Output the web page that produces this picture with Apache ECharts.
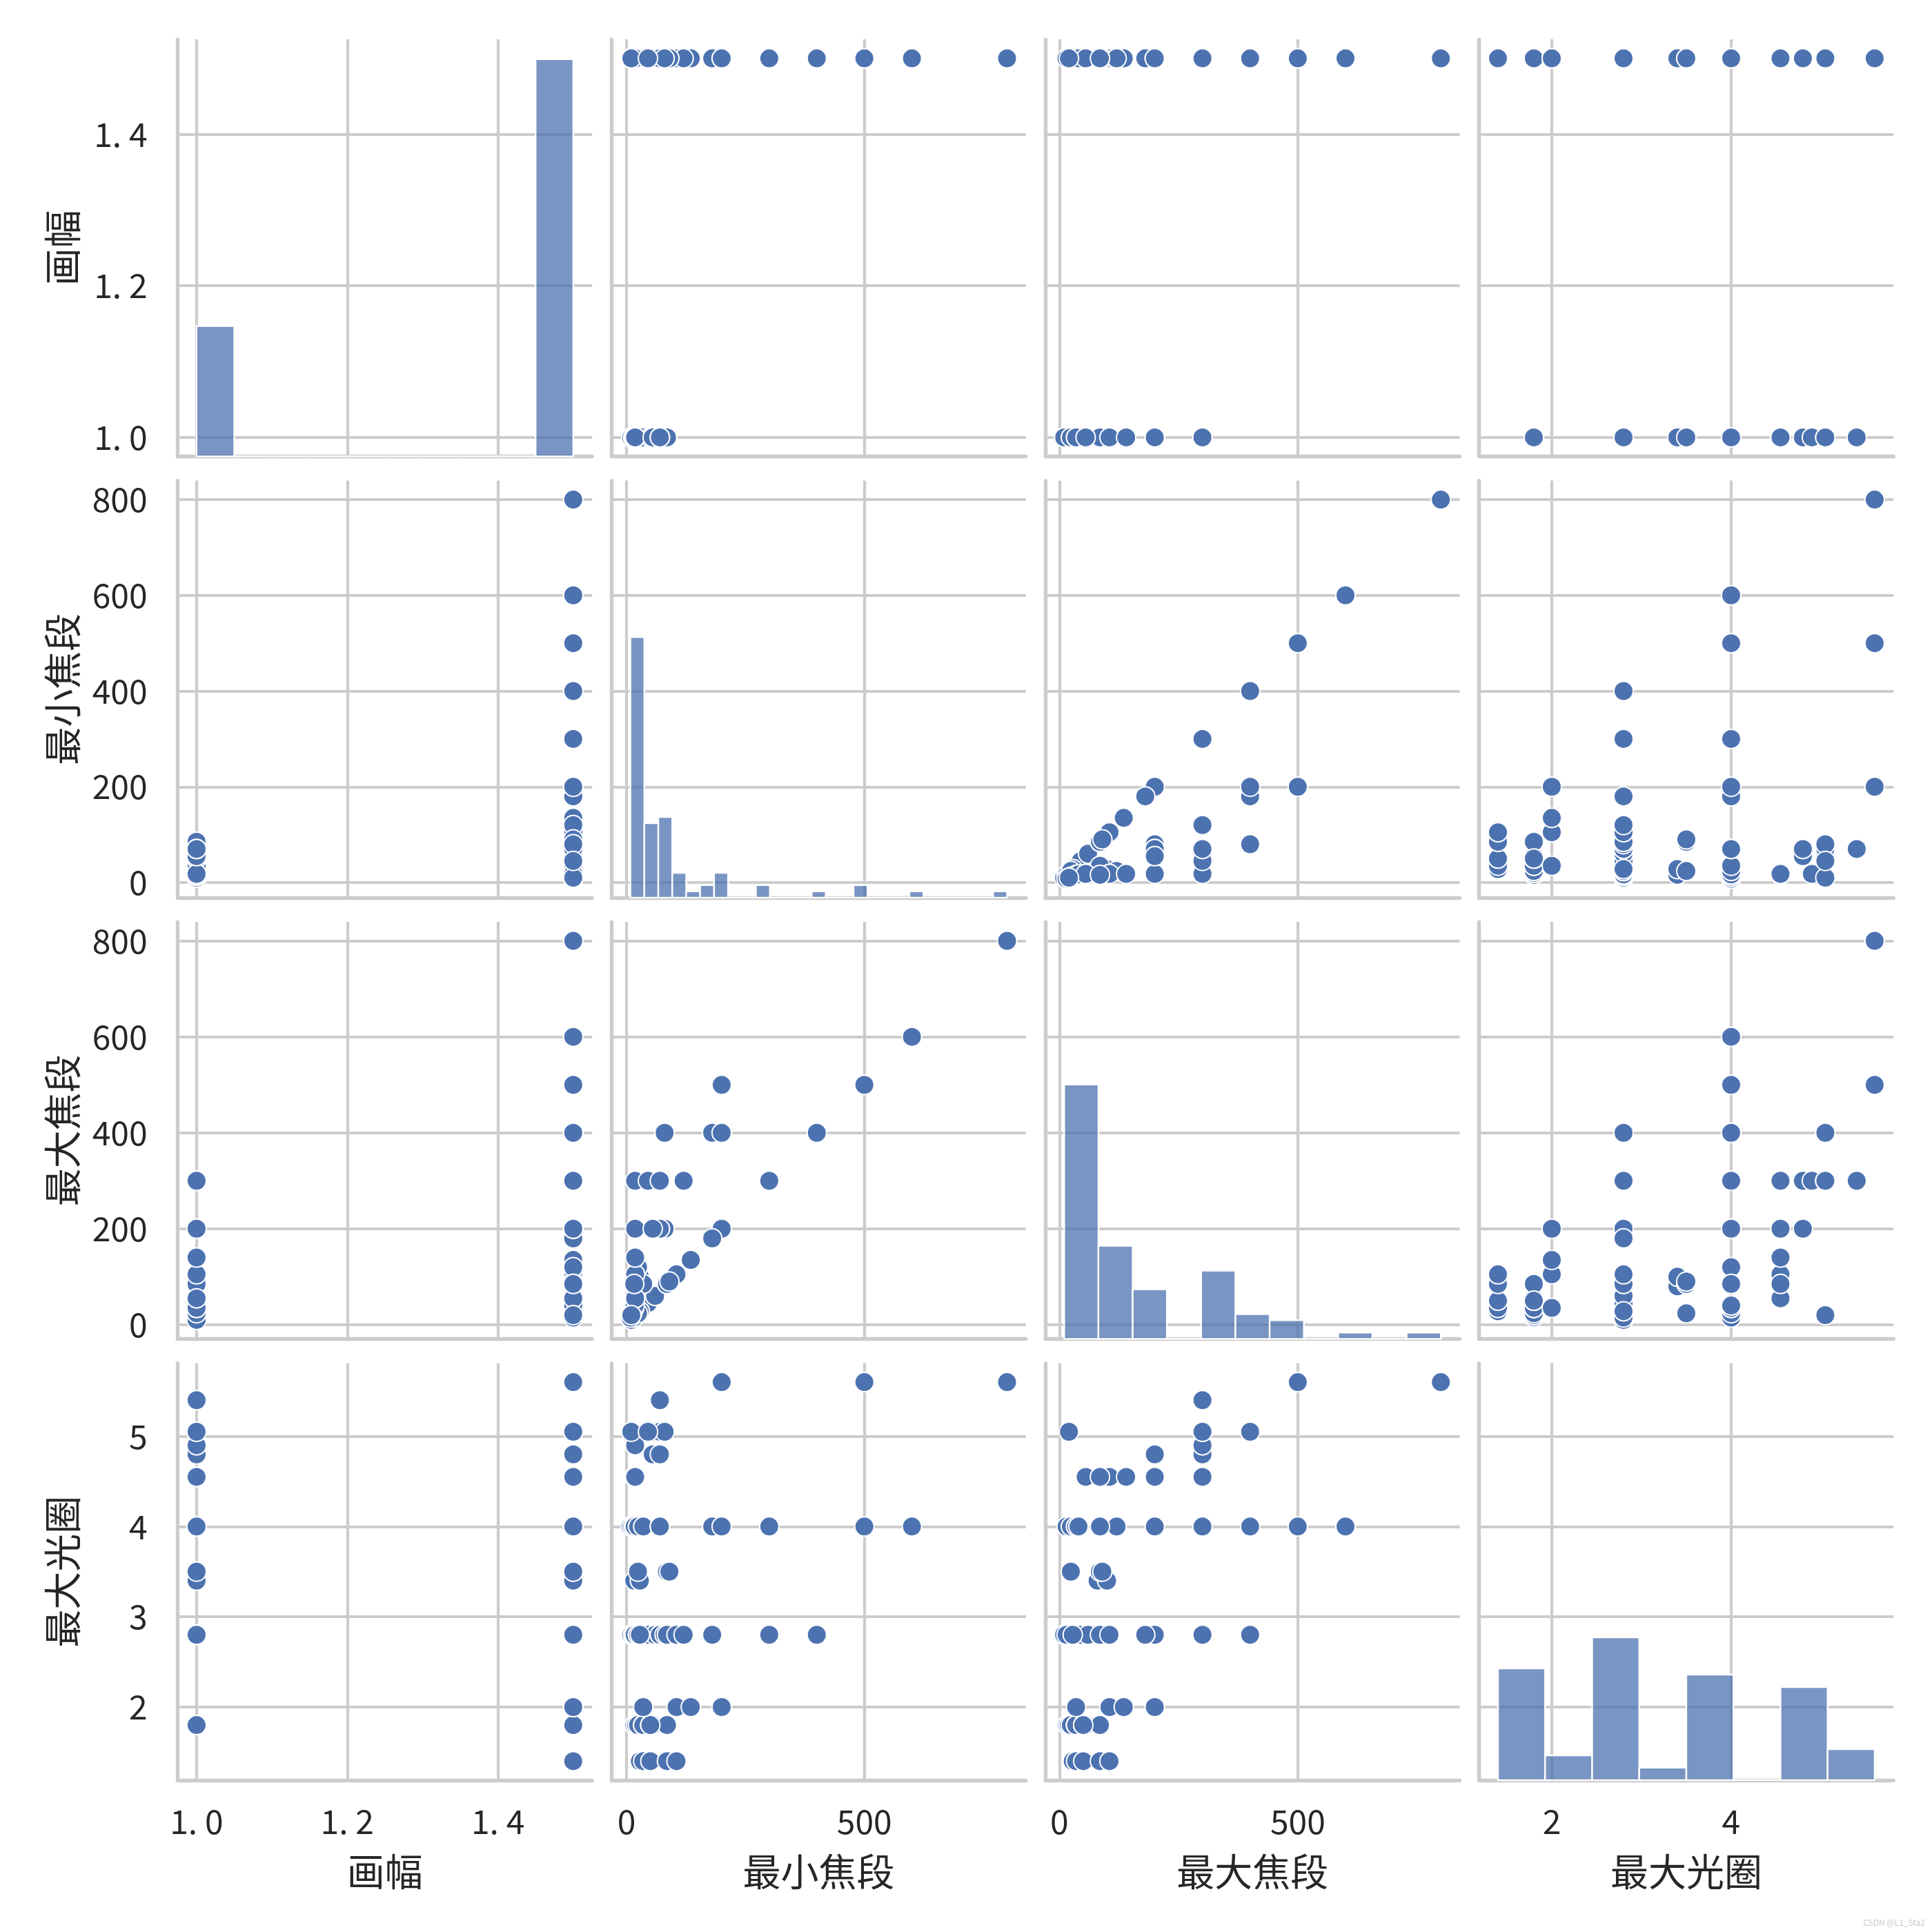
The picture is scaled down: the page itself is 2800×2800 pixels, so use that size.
<!DOCTYPE html>
<html><head><meta charset="utf-8">
<script src="https://cdn.jsdelivr.net/npm/echarts@6/dist/echarts.min.js"></script>
<style>html,body{margin:0;padding:0;background:#fff}#c{width:2800px;height:2800px}</style>
</head><body><div id="c"></div>
<script>
// ---------------- data ----------------
const varNames = ['画幅', '最小焦段', '最大焦段', '最大光圈'];

const format = [1.5,1.5,1.5,1.5,1.5, 1.5,1.0,1.5,1.5,1.5,1.0,1.5,1.5,1.0,1.5,1.5,1.0,1.5, 1.5,1.5,1.5,1.5,
  1.0,1.5,1.0,1.5,1.5,1.0,1.5,1.0,1.5,1.5,1.5,1.5,1.5,1.5,1.5,1.0,1.5,1.5,1.5,1.5,1.5,1.5,1.5,
  1.0,1.5, 1.5,1.0,1.5, 1.5,1.5,1.0,1.5,1.5,1.5,1.5,1.5,1.5,1.5,1.5,1.5,1.5,1.0,
  1.0,1.5,1.0,1.5,1.0,1.5,1.5, 1.0,1.5, 1.0, 1.5,1.0,1.5,1.0,1.5,1.5, 1.0,1.5,1.5,1.5];
const minFocal = [28,35,50,85,105, 16,20,20,24,35,35,35,50,50,55,85,85,50, 35,105,135,200,
  10,14,14,15,16,16,17,17,24,24,24,45,60,70,70,80,85,105,120,180,300,400,28,
  16,28, 24,85,90, 8,12,16,16,17,24,35,70,180,200,300,500,600,70,
  18,18,18,16,18,18,18, 55,70, 18, 10,55,70,70,80,45, 70,200,500,800];
const maxFocal = [28,35,50,85,105, 16,20,20,24,35,35,35,50,50,55,85,85,50, 35,105,135,200,
  10,24,24,15,35,35,50,50,70,70,70,45,60,200,200,200,85,105,300,180,300,400,28,
  80,100, 24,85,90, 15,24,35,35,40,120,85,200,400,400,300,500,600,200,
  55,55,105,85,140,200,300, 200,300, 300, 20,300,300,300,400,300, 300,500,500,800];
const aperture = [1.4,1.4,1.4,1.4,1.4, 1.8,1.8,1.8,1.8,1.8,1.8,1.8,1.8,1.8,1.8,1.8,1.8,1.8, 2,2,2,2,
  2.8,2.8,2.8,2.8,2.8,2.8,2.8,2.8,2.8,2.8,2.8,2.8,2.8,2.8,2.8,2.8,2.8,2.8,2.8,2.8,2.8,2.8,2.8,
  3.4,3.4, 3.5,3.5,3.5, 4,4,4,4,4,4,4,4,4,4,4,4,4,4,
  4.55,4.55,4.55,4.55,4.55,4.55,4.55, 4.8,4.8, 4.9, 5.05,5.05,5.05,5.05,5.05,5.05, 5.4,5.6,5.6,5.6];

// tick values
const formatTicks = [1.0, 1.2, 1.4];
const focalTicksX = [0, 500];
const focalTicksY = [0, 200, 400, 600, 800];
const apertureTicksX = [2, 4];
const apertureTicksY = [2, 3, 4, 5];

// histogram counts (diagonal), with bin ranges
const formatHistCounts = [21,0,0,0,0,0,0,0,0,64];
const formatHistRange = [1.0, 1.5];
const minHistCounts = [42,12,13,4,1,2,4,0,0,2,0,0,0,1,0,0,2,0,0,0,1,0,0,0,0,0,1];
const minHistRange = [8, 800];
const maxHistCounts = [41,15,8,0,11,4,3,0,1,0,1];
const maxHistRange = [10, 800];
const apHistCounts = [18,4,23,2,17,0,15,5];
const apHistRange = [1.4, 5.6];

// ---------------- chart ----------------
const chart = echarts.init(document.getElementById('c'), null, {renderer: 'canvas', width: 2800, height: 2800});
const cols = [format, minFocal, maxFocal, aperture];
const hists = [[formatHistCounts, formatHistRange], [minHistCounts, minHistRange], [maxHistCounts, maxHistRange], [apHistCounts, apHistRange]];
function lim(a) { const lo = Math.min(...a), hi = Math.max(...a), p = (hi - lo) * 0.05; return [lo - p, hi + p]; }
const lims = cols.map(lim);
const xTicks = [formatTicks, focalTicksX, focalTicksX, apertureTicksX];
const yTicks = [formatTicks, focalTicksY, focalTicksY, apertureTicksY];
const fmtFormat = v => v.toFixed(1).replace('.', '. ');
const labelFmt = [fmtFormat, v => String(v), v => String(v), v => String(v)];

const GRIDC = '#cccccc', TXT = '#262626', BLUE = '#4C72B0';
const FONT = '"Noto Sans CJK SC", "Noto Sans", sans-serif';
const L0 = 257.6, CS = 628.7, W = 600.5, T0 = 57.1, RS = 639.5, H = 604.3;
const countMax = Math.max(...hists.map(h => Math.max(...h[0]))) * 1.05;

const grids = [], xAxes = [], yAxes = [], series = [];
for (let r = 0; r < 4; r++) {
  for (let c = 0; c < 4; c++) {
    const gi = r * 4 + c;
    grids.push({left: L0 + c * CS, top: T0 + r * RS, width: W, height: H});
    xAxes.push({
      type: 'value', gridIndex: gi, min: lims[c][0], max: lims[c][1], position: 'bottom',
      axisLine: {show: true, onZero: false, lineStyle: {color: GRIDC, width: 5.4}},
      axisTick: {show: false, customValues: xTicks[c]},
      axisLabel: {show: r === 3, customValues: xTicks[c], formatter: labelFmt[c], fontSize: 48, color: TXT, margin: 36, fontFamily: FONT},
      splitLine: {show: true, lineStyle: {color: GRIDC, width: 4.2}},
      name: r === 3 ? varNames[c] : '', nameLocation: 'middle', nameGap: 105,
      nameTextStyle: {fontSize: 55, color: TXT, fontFamily: FONT}
    });
    yAxes.push({
      type: 'value', gridIndex: gi, min: lims[r][0], max: lims[r][1], position: 'left',
      axisLine: {show: true, onZero: false, lineStyle: {color: GRIDC, width: 5.4}},
      axisTick: {show: false, customValues: yTicks[r]},
      axisLabel: {show: c === 0, customValues: yTicks[r], formatter: labelFmt[r], fontSize: 48, color: TXT, margin: 44, fontFamily: FONT},
      splitLine: {show: true, lineStyle: {color: GRIDC, width: 4.2}},
      name: c === 0 ? varNames[r] : '', nameLocation: 'middle', nameGap: 140,
      nameTextStyle: {fontSize: 55, color: TXT, fontFamily: FONT}
    });
    if (r !== c) {
      series.push({
        type: 'scatter', xAxisIndex: gi, yAxisIndex: gi,
        data: cols[c].map((v, i) => [v, cols[r][i]]),
        symbol: 'circle', symbolSize: 28,
        itemStyle: {color: BLUE, borderColor: '#ffffff', borderWidth: 2, opacity: 1},
        emphasis: {disabled: true}, silent: true, z: 3
      });
    }
  }
}
// hidden count axes for diagonal histograms
for (let d = 0; d < 4; d++) {
  const gi = d * 5;
  yAxes.push({type: 'value', gridIndex: gi, min: 0, max: countMax, show: false, splitLine: {show: false}});
  const counts = hists[d][0], rg = hists[d][1];
  const w = (rg[1] - rg[0]) / counts.length;
  series.push({
    type: 'custom', xAxisIndex: gi, yAxisIndex: 16 + d, silent: true, z: 2,
    data: counts.map((n, i) => [rg[0] + i * w, rg[0] + (i + 1) * w, n]),
    renderItem: function (params, api) {
      const a = api.coord([api.value(0), 0]);
      const b = api.coord([api.value(1), api.value(2)]);
      return {type: 'rect', shape: {x: a[0], y: b[1], width: b[0] - a[0], height: a[1] - b[1]},
        style: {fill: 'rgba(76,114,176,0.75)', stroke: '#ffffff', lineWidth: 2.4}};
    }
  });
}

chart.setOption({
  backgroundColor: '#ffffff',
  animation: false,
  grid: grids, xAxis: xAxes, yAxis: yAxes, series: series,
  graphic: [{type: 'text', right: 10, bottom: 8, style: {text: 'CSDN @L1_Sta2', fill: '#c8c8c8', fontSize: 12, fontFamily: FONT}}]
});
</script></body></html>
